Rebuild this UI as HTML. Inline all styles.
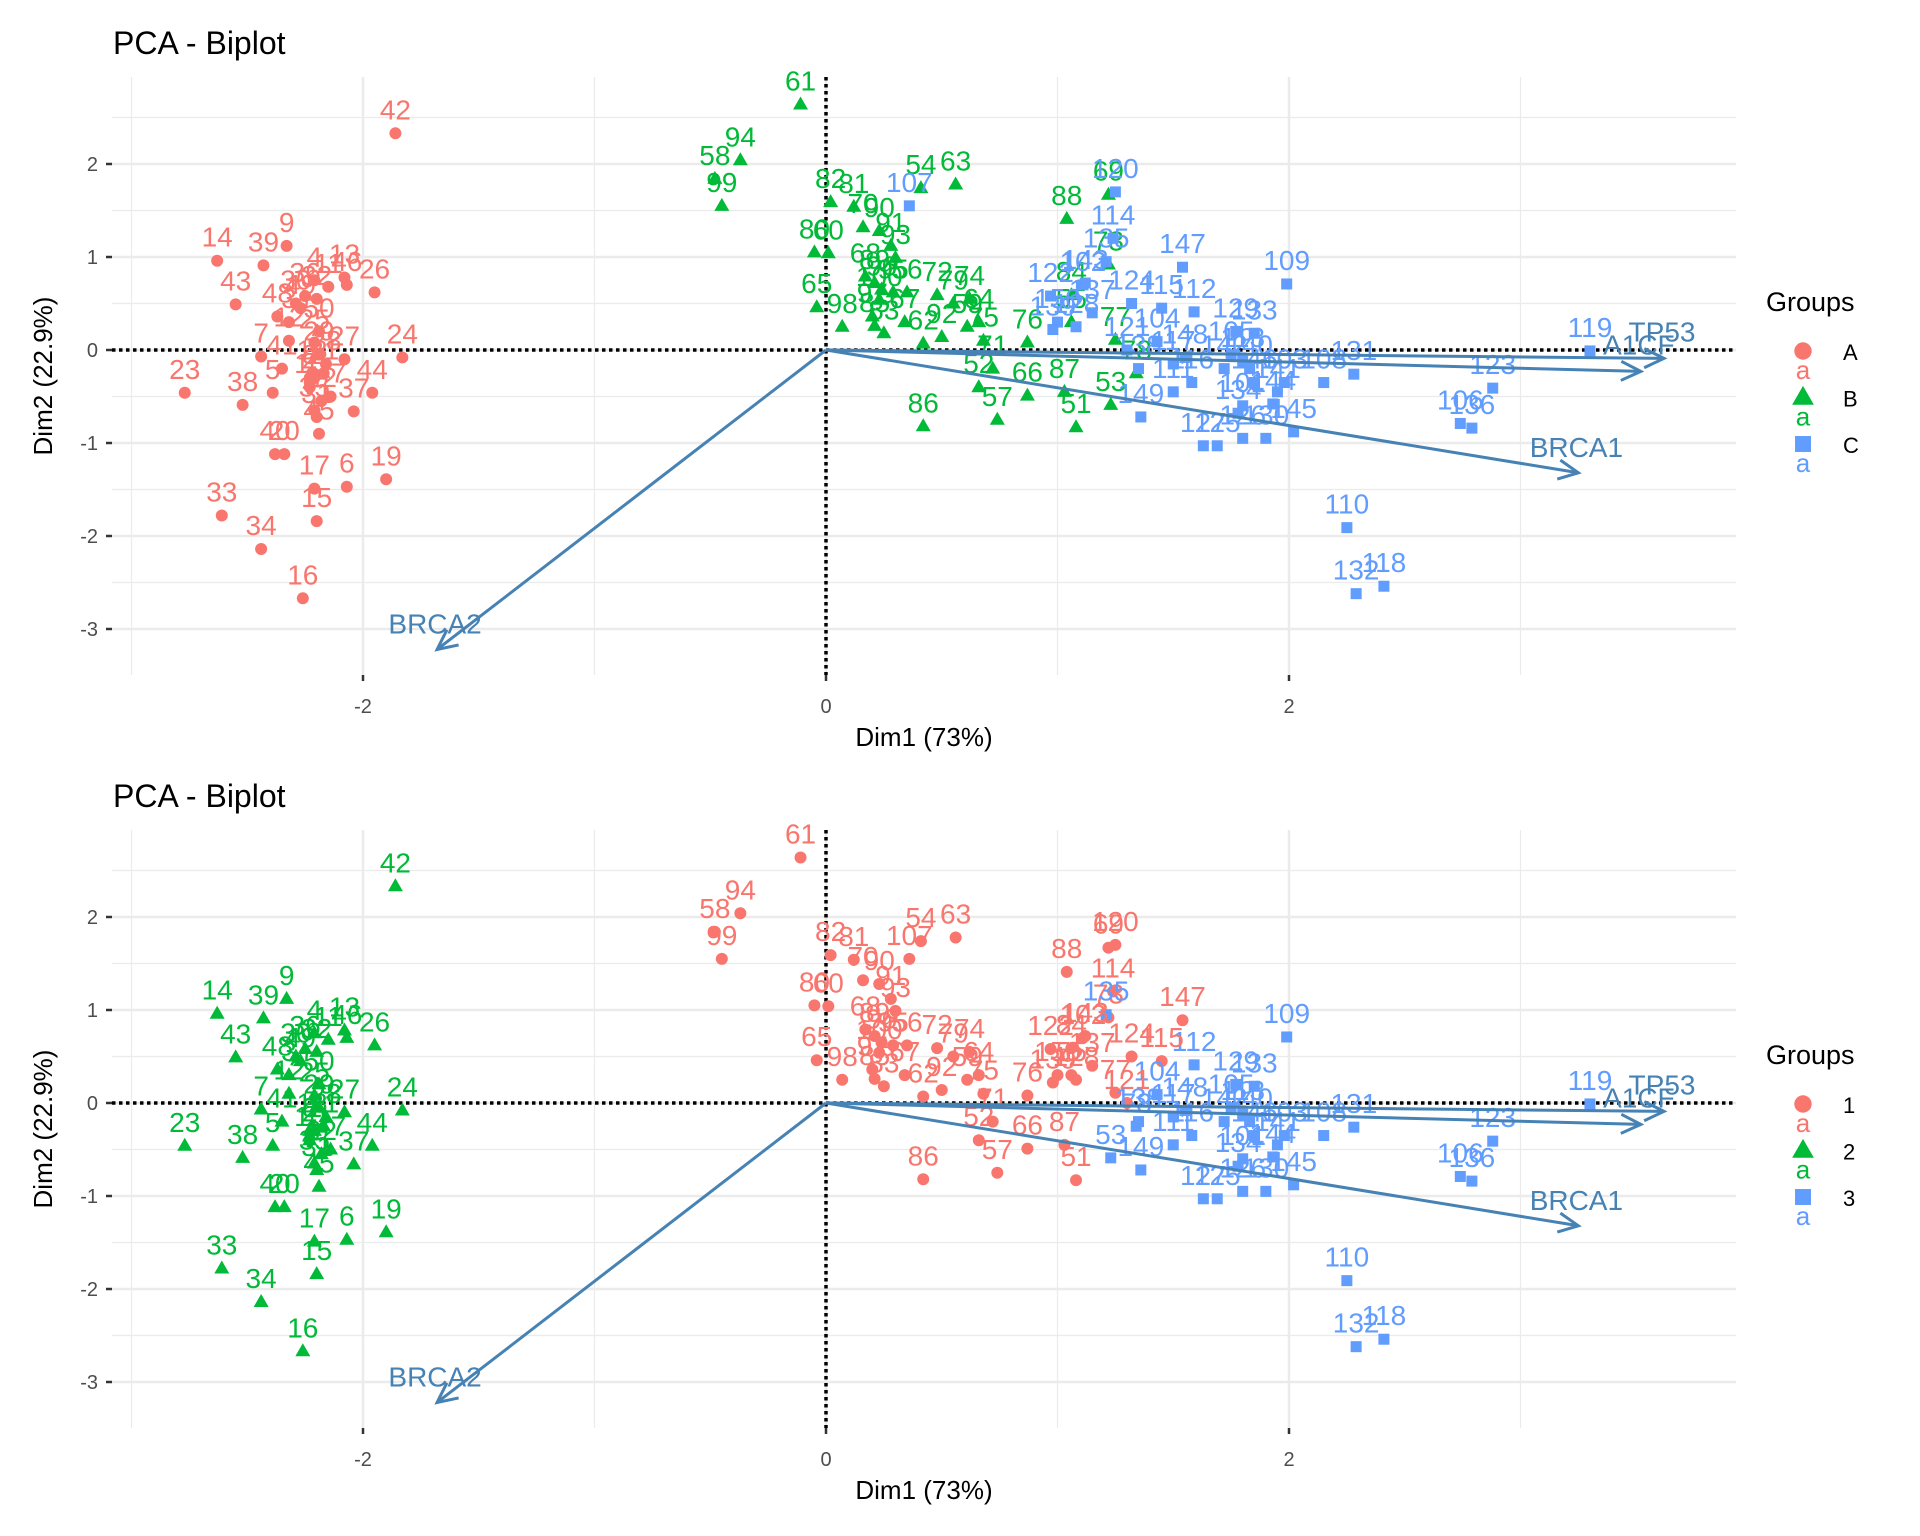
<!DOCTYPE html>
<html><head><meta charset="utf-8"><style>
html,body{margin:0;padding:0;background:#fff}
svg{display:block}
text{font-family:"Liberation Sans",Arial,sans-serif}
</style></head>
<body>
<svg id="chart" width="1920" height="1536" viewBox="0 0 1920 1536" xmlns="http://www.w3.org/2000/svg"></svg>
<script>
// ---- data ----
const ids = [42,14,39,9,43,13,46,26,4,11,36,48,3,32,30,37,7,12,50,25,27,24,44,41,21,2,23,38,5,22,10,35,31,40,20,47,45,17,6,19,15,33,34,16,18,28,29,8,49,1,
61,94,58,99,82,81,54,63,70,90,91,93,60,80,68,89,96,95,100,56,97,85,83,65,98,72,74,67,62,92,64,75,59,84,88,69,73,55,77,71,76,66,87,57,86,51,53,78,52,79,
107,120,114,135,147,109,122,102,143,112,124,115,137,104,129,133,150,128,139,119,131,108,123,103,106,136,110,132,118,105,113,140,142,146,141,101,144,116,111,121,138,117,148,149,125,126,145,127,134,130];
const xs = [-1.86,-2.63,-2.43,-2.33,-2.55,-2.08,-2.07,-1.95,-2.21,-2.15,-2.25,-2.37,-2.32,-2.2,-2.29,-2.04,-2.44,-2.32,-2.19,-2.21,-2.08,-1.83,-1.96,-2.35,-2.17,-2.23,-2.77,-2.52,-2.39,-2.18,-2.23,-2.21,-2.2,-2.38,-2.34,-2.14,-2.19,-2.21,-2.07,-1.9,-2.2,-2.61,-2.44,-2.26,-2.22,-2.16,-2.19,-2.23,-2.27,-2.21,
-0.11,-0.37,-0.48,-0.45,0.02,0.12,0.41,0.56,0.16,0.23,0.28,0.3,0.01,-0.05,0.17,0.21,0.24,0.29,0.23,0.35,0.2,0.21,0.25,-0.04,0.07,0.48,0.62,0.34,0.42,0.5,0.66,0.68,0.61,1.06,1.04,1.22,1.22,1.06,1.25,0.72,0.87,0.87,1.03,0.74,0.42,1.08,1.23,1.34,0.66,0.55,
0.36,1.25,1.24,1.21,1.54,1.99,0.97,1.11,1.12,1.59,1.32,1.45,1.15,1.43,1.77,1.85,1.0,1.08,0.98,3.3,2.28,2.15,2.88,1.98,2.74,2.79,2.25,2.29,2.41,1.75,1.8,1.83,1.72,1.85,1.95,1.8,1.93,1.58,1.5,1.3,1.35,1.5,1.55,1.36,1.69,1.8,2.02,1.63,1.78,1.9];
const ys = [2.33,0.96,0.91,1.12,0.49,0.78,0.7,0.62,0.75,0.68,0.58,0.36,0.3,0.55,0.5,-0.66,-0.07,0.1,0.2,0.08,-0.1,-0.08,-0.46,-0.2,-0.25,-0.35,-0.46,-0.59,-0.46,-0.55,-0.4,-0.65,-0.72,-1.12,-1.12,-0.5,-0.9,-1.49,-1.47,-1.39,-1.84,-1.78,-2.14,-2.67,-0.25,-0.15,-0.05,-0.3,0.45,-0.3,
2.64,2.04,1.84,1.55,1.59,1.54,1.74,1.78,1.32,1.28,1.12,0.99,1.04,1.05,0.79,0.72,0.65,0.62,0.54,0.62,0.36,0.26,0.18,0.46,0.25,0.59,0.55,0.3,0.07,0.14,0.3,0.1,0.25,0.59,1.41,1.67,0.92,0.3,0.11,-0.2,0.08,-0.49,-0.45,-0.75,-0.82,-0.83,-0.59,-0.25,-0.4,0.5,
1.55,1.7,1.2,0.95,0.89,0.71,0.58,0.7,0.72,0.41,0.5,0.45,0.4,0.09,0.2,0.18,0.3,0.25,0.22,-0.01,-0.26,-0.35,-0.41,-0.35,-0.79,-0.84,-1.91,-2.62,-2.54,-0.05,-0.12,-0.2,-0.2,-0.35,-0.45,-0.6,-0.58,-0.35,-0.45,0.0,-0.2,-0.15,-0.08,-0.72,-1.03,-0.95,-0.88,-1.03,-0.68,-0.95];
const grp = [].concat(Array(50).fill('A'),Array(50).fill('B'),Array(50).fill('C'));
const clus = [2,2,2,2,2,2,2,2,2,2,2,2,2,2,2,2,2,2,2,2,2,2,2,2,2,2,2,2,2,2,2,2,2,2,2,2,2,2,2,2,2,2,2,2,2,2,2,2,2,2,
1,1,1,1,1,1,1,1,1,1,1,1,1,1,1,1,1,1,1,1,1,1,1,1,1,1,1,1,1,1,1,1,1,1,1,1,1,1,1,1,1,1,1,1,1,1,3,3,1,1,
1,1,1,3,1,3,1,1,1,3,1,1,1,3,3,3,1,1,1,3,3,3,3,3,3,3,3,3,3,3,3,3,3,3,3,3,3,3,3,1,3,3,3,3,3,3,3,3,3,3];
const varNames = ['TP53','A1CF','BRCA1','BRCA2'];
const varX = [3.62,3.52,3.25,-1.68];
const varY = [-0.09,-0.23,-1.32,-3.22];
const xTicks = [-2,0,2];
const yTicks = [-3,-2,-1,0,1,2];

// ---- drawing ----
const NS='http://www.w3.org/2000/svg';
const svg=document.getElementById('chart');
const COLS={A:'#F8766D',B:'#00BA38',C:'#619CFF',1:'#F8766D',2:'#00BA38',3:'#619CFF'};
const SHAPE={A:'circle',B:'triangle',C:'square',1:'circle',2:'triangle',3:'square'};
function mk(tag,attrs,parent){const e=document.createElementNS(NS,tag);for(const k in attrs)e.setAttribute(k,attrs[k]);(parent||svg).appendChild(e);return e;}
function marker(g,shape,cx,cy,col,s){
  let e;
  if(shape==='circle') e=mk('circle',{cx:cx,cy:cy,r:6*s,fill:col},g);
  else if(shape==='triangle') e=mk('polygon',{points:`${cx},${cy-8*s} ${cx-7.5*s},${cy+5*s} ${cx+7.5*s},${cy+5*s}`,fill:col},g);
  else e=mk('rect',{x:cx-5.5*s,y:cy-5.5*s,width:11*s,height:11*s,fill:col},g);
  return e;
}
function panel(off,useClus,keys){
  const X0=826,XU=231.5,Y0=350+off,YU=93;
  const sx=v=>X0+v*XU, sy=v=>Y0-v*YU;
  const L=112,R=1736,T=77+off,B=675+off;
  const g=mk('g',{});
  
  
  for(let v=-3;v<=3;v+=2){mk('line',{x1:sx(v),x2:sx(v),y1:T,y2:B,stroke:'#EBEBEB','stroke-width':1.2},g);}
  for(let v=-3.5;v<=2.5;v+=1){if(sy(v)>=T&&sy(v)<=B)mk('line',{x1:L,x2:R,y1:sy(v),y2:sy(v),stroke:'#EBEBEB','stroke-width':1.2},g);}
  xTicks.forEach(v=>{mk('line',{x1:sx(v),x2:sx(v),y1:T,y2:B,stroke:'#EBEBEB','stroke-width':2.5},g);
    mk('line',{x1:sx(v),x2:sx(v),y1:B,y2:B+6,stroke:'#333','stroke-width':2.5},g);
    const t=mk('text',{x:sx(v),y:B+38,'text-anchor':'middle','font-size':20,fill:'#4D4D4D'},g);t.textContent=v;
    
    });
  yTicks.forEach(v=>{mk('line',{x1:L,x2:R,y1:sy(v),y2:sy(v),stroke:'#EBEBEB','stroke-width':2.5},g);
    mk('line',{x1:L-6,x2:L,y1:sy(v),y2:sy(v),stroke:'#333','stroke-width':2.5},g);
    const t=mk('text',{x:L-14,y:sy(v)+7,'text-anchor':'end','font-size':20,fill:'#4D4D4D'},g);t.textContent=v;
    
    });
  mk('line',{x1:L,x2:R,y1:sy(0),y2:sy(0),stroke:'#000','stroke-width':3.5,'stroke-dasharray':'3.5 3.5'},g);
  mk('line',{x1:sx(0),x2:sx(0),y1:T,y2:B,stroke:'#000','stroke-width':3.5,'stroke-dasharray':'3.5 3.5'},g);
  for(let i=0;i<ids.length;i++){
    const k=useClus?clus[i]:grp[i];const col=COLS[k];
    const px=sx(xs[i]),py=sy(ys[i]);
    const m=marker(g,SHAPE[k],px,py,col,1);
    
    
    const t=mk('text',{x:px,y:py-14,'text-anchor':'middle','font-size':28,fill:col},g);t.textContent=ids[i];
    
    
  }
  for(let j=0;j<varNames.length;j++){
    const ex=sx(varX[j]),ey=sy(varY[j]);
    const a=mk('line',{x1:sx(0),y1:sy(0),x2:ex,y2:ey,stroke:'#4682B4','stroke-width':3},g);
    
    
    const ang=Math.atan2(ey-sy(0),ex-sx(0)),h=22,w=0.45;
    mk('polyline',{points:`${ex-h*Math.cos(ang-w)},${ey-h*Math.sin(ang-w)} ${ex},${ey} ${ex-h*Math.cos(ang+w)},${ey-h*Math.sin(ang+w)}`,fill:'none',stroke:'#4682B4','stroke-width':3},g);
    const lx=ex-2, ly=ey-(j===3?16:(j===2?16:17));
    const t=mk('text',{x:lx,y:ly,'text-anchor':'middle','font-size':28,fill:'#4682B4'},g);t.textContent=varNames[j];
    
    
  }
  let t=mk('text',{x:113,y:54+off,'font-size':32,fill:'#000'},g);t.textContent='PCA - Biplot';
  
  
  t=mk('text',{x:(L+R)/2,y:746+off,'text-anchor':'middle','font-size':26,fill:'#000'},g);t.textContent='Dim1 (73%)';
  
  
  t=mk('text',{x:0,y:0,'text-anchor':'middle','font-size':26,fill:'#000',transform:`translate(52,${(T+B)/2}) rotate(-90)`},g);t.textContent='Dim2 (22.9%)';
  
  
  t=mk('text',{x:1766,y:311+off,'font-size':27,fill:'#000'},g);t.textContent='Groups';
  
  
  keys.forEach((k,i)=>{
    const cy=351+off+i*46.5, col=COLS[k];
    const le=mk('g',{},g);
    
    
    marker(le,SHAPE[k],1803,cy,col,1.45);
    const a=mk('text',{x:1803,y:cy+28,'text-anchor':'middle','font-size':26,fill:col},le);a.textContent='a';
    const lb=mk('text',{x:1843,y:cy+9,'font-size':22,fill:'#000'},le);lb.textContent=k;
  });
}
panel(0,false,['A','B','C']);
panel(753,true,['1','2','3']);
</script>
</body></html>
